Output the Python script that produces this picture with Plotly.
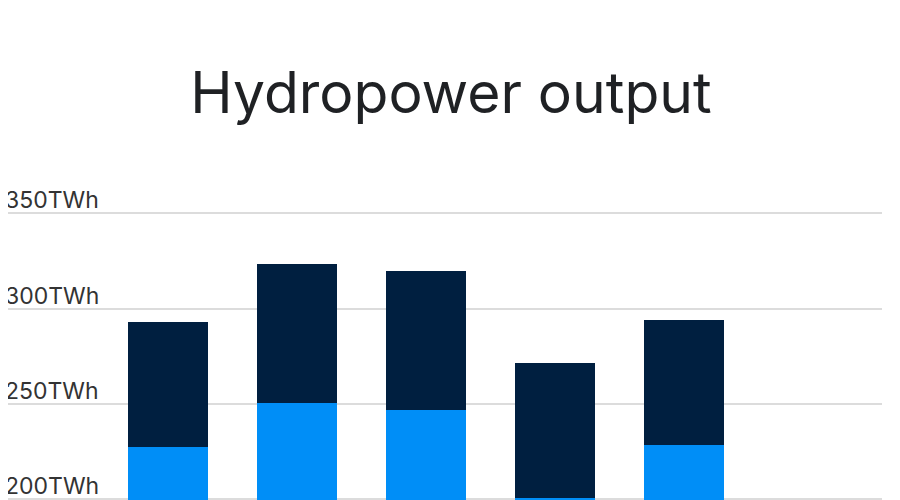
import plotly.graph_objects as go

categories = ["2019", "2020", "2021", "2022", "2023"]
lower_values = [227.5, 250.4, 246.7, 200.6, 228.5]
upper_values = [65.7, 73.2, 73.2, 70.7, 65.5]
lower_name = "H1"
upper_name = "H2"
y_ticks = [0, 50, 100, 150, 200, 250, 300, 350]
y_tick_labels = [f"{v}TWh" for v in y_ticks]

fig = go.Figure()
fig.add_trace(go.Bar(x=categories, y=lower_values, name=lower_name,
                     marker=dict(color="#008EF7", line=dict(width=0))))
fig.add_trace(go.Bar(x=categories, y=upper_values, name=upper_name,
                     marker=dict(color="#001F40", line=dict(width=0))))

fig.update_layout(
    width=900, height=1000,
    barmode="stack", bargap=0.38,
    paper_bgcolor="white", plot_bgcolor="white",
    margin=dict(l=0, r=26, t=167, b=127),
    showlegend=False,
    font=dict(family="Inter, Roboto, sans-serif", color="#2b2b2b"),
    title=dict(text="Hydropower output", x=443 / 900, xanchor="center",
               y=1 - 85 / 1000, yanchor="middle", yref="container",
               font=dict(size=57, color="#1f2124", family="Inter, sans-serif")),
    xaxis=dict(type="category", range=[-1.243, 5.533], showgrid=False,
               showline=False, ticks="", tickfont=dict(size=20),
               automargin=False),
    yaxis=dict(range=[0, 370], tickvals=y_ticks, ticktext=y_tick_labels,
               ticklabelposition="inside top", ticklabelstandoff=-6,
               ticklabelshift=3, ticklabeloverflow="allow",
               automargin=False, showgrid=True,
               gridcolor="#dcdcdc", gridwidth=1.5, zeroline=False,
               showline=False, ticks="",
               tickfont=dict(size=23, color="#333333")),
)

fig.write_html("out.html")
